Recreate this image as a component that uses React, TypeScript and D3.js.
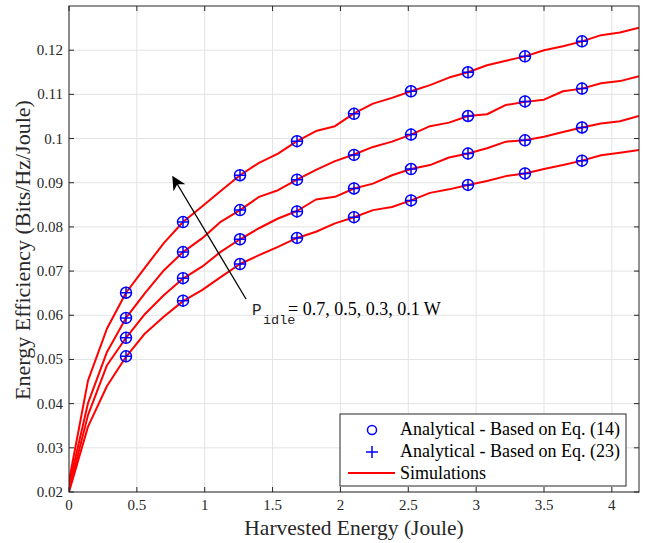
import React from 'react'
import * as d3 from 'd3'

// harvested energy grid of the simulation runs (Joule)
const harvested = [0, 0.14, 0.28, 0.42, 0.56, 0.7, 0.84, 0.98, 1.12, 1.26, 1.4, 1.54, 1.68, 1.82, 1.96, 2.1,
  2.24, 2.38, 2.52, 2.66, 2.8, 2.94, 3.08, 3.22, 3.36, 3.5, 3.64, 3.78, 3.92, 4.06, 4.2]

// simulated energy efficiency, one list per P_idle
const simP07 = [0.0225, 0.0452, 0.057, 0.0651, 0.0708, 0.0764, 0.0811, 0.0846, 0.0882, 0.0917, 0.0945, 0.0966,
  0.0994, 0.1017, 0.1028, 0.1057, 0.1079, 0.1092, 0.1107, 0.1121, 0.1138, 0.115, 0.1166, 0.1176, 0.1186, 0.12,
  0.1209, 0.122, 0.1234, 0.124, 0.1251]
const simP05 = [0.0215, 0.0401, 0.0517, 0.0594, 0.065, 0.0702, 0.0743, 0.0774, 0.0812, 0.0838, 0.0868, 0.0883,
  0.0907, 0.0929, 0.0949, 0.0964, 0.0981, 0.0993, 0.1009, 0.1028, 0.1036, 0.1051, 0.1055, 0.1076, 0.1083, 0.1088,
  0.1107, 0.1113, 0.1125, 0.113, 0.1141]
const simP03 = [0.0205, 0.0374, 0.0487, 0.0549, 0.0603, 0.0646, 0.0683, 0.071, 0.0744, 0.0772, 0.0797, 0.0819,
  0.0836, 0.0862, 0.0868, 0.0887, 0.0898, 0.0917, 0.0931, 0.094, 0.0957, 0.0966, 0.0978, 0.0993, 0.0996, 0.1004,
  0.1015, 0.1025, 0.1034, 0.1039, 0.1051]
const simP01 = [0.02, 0.0348, 0.044, 0.0506, 0.0559, 0.0597, 0.0632, 0.0657, 0.0687, 0.0716, 0.0736, 0.0755,
  0.0775, 0.0789, 0.0808, 0.0822, 0.0838, 0.0845, 0.086, 0.0877, 0.0885, 0.0895, 0.0904, 0.0915, 0.0921, 0.0931,
  0.094, 0.095, 0.0962, 0.0968, 0.0974]

// analytical points (Eq. 14 and Eq. 23 coincide)
const markerEnergy = [0.42, 0.84, 1.26, 1.68, 2.1, 2.52, 2.94, 3.36, 3.78]
const anaP07 = [0.0651, 0.0811, 0.0917, 0.0994, 0.1056, 0.1107, 0.115, 0.1186, 0.122]
const anaP05 = [0.0594, 0.0743, 0.0838, 0.0907, 0.0963, 0.1009, 0.1051, 0.1084, 0.1113]
const anaP03 = [0.0549, 0.0684, 0.0772, 0.0835, 0.0887, 0.0931, 0.0966, 0.0996, 0.1025]
const anaP01 = [0.0507, 0.0633, 0.0716, 0.0775, 0.0822, 0.086, 0.0895, 0.0921, 0.095]

const xTicks = [0, 0.5, 1, 1.5, 2, 2.5, 3, 3.5, 4]
const yTicks = [0.02, 0.03, 0.04, 0.05, 0.06, 0.07, 0.08, 0.09, 0.1, 0.11, 0.12]

const legendLabels = ['Analytical - Based on Eq. (14)', 'Analytical - Based on Eq. (23)', 'Simulations']

const W = 645
const H = 543
const left = 69, right = 639, top = 6, bottom = 492
const AX = '#262626'
const GRID = '#e3e3e3'
const SERIF = '"Liberation Serif", "Times New Roman", serif'
const MONO = '"Liberation Mono", "DejaVu Sans Mono", monospace'

export default function App() {
  const x = d3.scaleLinear().domain([0, 4.2]).range([left, right])
  const y = d3.scaleLinear().domain([0.02, 0.13]).range([bottom, top])

  const line = d3.line<number>()
    .x((_, i) => x(harvested[i]))
    .y(d => y(d))

  const sims = [simP07, simP05, simP03, simP01]
  const anas = [anaP07, anaP05, anaP03, anaP01]
  const fmt = (v: number) => String(+v.toFixed(2))

  const tick = 5
  const lx = 340, ly = 414, lw = 286, lh = 72

  return <svg width={W} height={H} style={{position: 'absolute', left: 0, top: 0, background: 'white'}}
    fontFamily={SERIF}>
    <defs>
      <clipPath id="plot"><rect x={left} y={top} width={right - left} height={bottom - top} /></clipPath>
      <marker id="arrow" viewBox="0 0 10 10" refX="9" refY="5" markerWidth="14" markerHeight="14"
        markerUnits="userSpaceOnUse" orient="auto">
        <path d="M0,0 L10,5 L0,10 L3,5 Z" fill="black" />
      </marker>
    </defs>
    <rect x={left} y={top} width={right - left} height={bottom - top} fill="white" />

    {/* grid */}
    <g stroke={GRID} strokeWidth={1}>
      {xTicks.map(t => <line key={'gx' + t} x1={x(t)} x2={x(t)} y1={top} y2={bottom} />)}
      {yTicks.map(t => <line key={'gy' + t} x1={left} x2={right} y1={y(t)} y2={y(t)} />)}
    </g>

    {/* simulations */}
    <g clipPath="url(#plot)" fill="none" stroke="#ff0000" strokeWidth={2} strokeLinejoin="round">
      {sims.map((s, i) => <path key={i} d={line(s) || ''} />)}
    </g>

    {/* analytical markers */}
    <g fill="none" stroke="#0000ff" strokeWidth={1.5}>
      {anas.map((a, i) => a.map((v, j) => {
        const cx = x(markerEnergy[j]), cy = y(v)
        return <g key={`${i}-${j}`}>
          <circle cx={cx} cy={cy} r={5.5} />
          <path d={`M${cx - 6},${cy}H${cx + 6}M${cx},${cy - 6}V${cy + 6}`} />
        </g>
      }))}
    </g>

    {/* annotation */}
    <line x1={246} y1={299} x2={173} y2={177} stroke="black" strokeWidth={1.3} markerEnd="url(#arrow)" />
    <text x={252} y={315} fontSize={16} fontFamily={MONO} fill="#262626">P</text>
    <text x={263} y={324} fontSize={13.5} fontFamily={MONO} fill="#262626">idle</text>
    <text x={288} y={315} fontSize={18} fill="black">= 0.7, 0.5, 0.3, 0.1 W</text>

    {/* axes box */}
    <rect x={left} y={top} width={right - left} height={bottom - top} fill="none" stroke={AX} strokeWidth={1} />
    <g stroke={AX} strokeWidth={1}>
      {xTicks.map(t => <g key={'tx' + t}>
        <line x1={x(t)} x2={x(t)} y1={bottom} y2={bottom - tick} />
        <line x1={x(t)} x2={x(t)} y1={top} y2={top + tick} />
      </g>)}
      {yTicks.map(t => <g key={'ty' + t}>
        <line x1={left} x2={left + tick} y1={y(t)} y2={y(t)} />
        <line x1={right} x2={right - tick} y1={y(t)} y2={y(t)} />
      </g>)}
    </g>
    <g fontSize={15} fill={AX}>
      {xTicks.map(t => <text key={'lx' + t} x={x(t)} y={bottom + 18} textAnchor="middle">{fmt(t)}</text>)}
      {yTicks.map(t => <text key={'ly' + t} x={left - 6} y={y(t) + 5} textAnchor="end">{fmt(t)}</text>)}
    </g>

    {/* axis titles */}
    <text x={(left + right) / 2} y={535} textAnchor="middle" fontSize={21.5} fill={AX}>Harvested Energy (Joule)</text>
    <text transform={`translate(30,${(top + bottom) / 2 + 1}) rotate(-90)`} textAnchor="middle" fontSize={22}
      fill={AX}>Energy Efficiency (Bits/Hz/Joule)</text>

    {/* legend */}
    <g>
      <rect x={lx} y={ly} width={lw} height={lh} fill="white" stroke={AX} strokeWidth={1} />
      <circle cx={372} cy={ly + 16} r={4.5} fill="none" stroke="#0000ff" strokeWidth={1.5} />
      <path d={`M366,${ly + 38}H378M372,${ly + 32}V${ly + 44}`} stroke="#0000ff" strokeWidth={1.5} />
      <line x1={348} x2={395} y1={ly + 59} y2={ly + 59} stroke="#ff0000" strokeWidth={2} />
      {legendLabels.map((l, i) => <text key={l} x={400} y={ly + 21 + i * 22} fontSize={18} fill="black">{l}</text>)}
    </g>
  </svg>
}
